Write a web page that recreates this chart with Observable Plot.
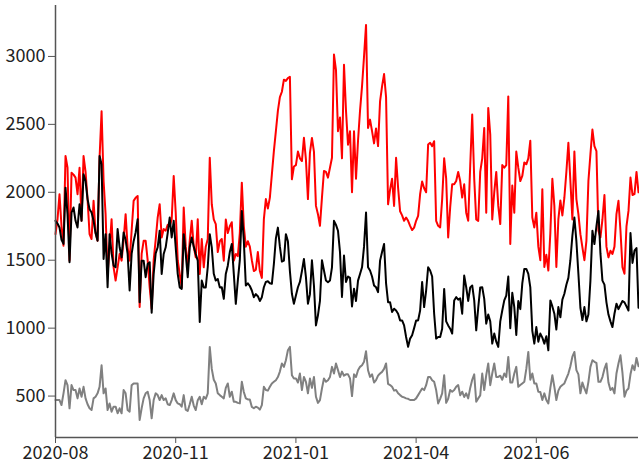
<!DOCTYPE html>
<html>
<head>
<meta charset="utf-8">
<script src="https://cdn.jsdelivr.net/npm/d3@7"></script>
<script src="https://cdn.jsdelivr.net/npm/@observablehq/plot@0.6"></script>
<style>
  html, body { margin: 0; padding: 0; background: #fff; }
  #chart svg { display: block; }
</style>
</head>
<body>
<div id="chart"></div>
<script>
const tickIndex = [0, 60, 120, 180, 240];
const tickLabels = ["2020-08", "2020-11", "2021-01", "2021-04", "2021-06"];
const yTicks = [500, 1000, 1500, 2000, 2500, 3000];

const red = [
1692,1800,1986,1750,1607,2267,2181,1497,2144,2130,
2108,1986,2181,1790,2267,2150,1950,1692,1656,1937,
1700,1643,2254,2596,2083,1839,1399,1595,1802,1448,
1350,1448,1546,1497,1650,1839,1595,1497,1717,1937,
1960,1973,1155,1546,1643,1643,1500,1301,
1143,1500,1650,1814,1912,1668,1729,1717,1760,1750,1800,2120,1850,1500,1400,1301,1888,1600,1448,1643,1790,1600,1521,1802,1399,1656,1448,1600,1656,2254,1912,1800,1766,1560,1640,1656,1497,1800,1700,1750,1780,1497,1546,1530,1700,2071,1750,
1600,1640,1600,1500,1420,1430,1560,1420,1370,1800,1950,1880,1961,2132,2303,2450,2600,2700,2740,2829,2820,2840,2850,2096,2190,2200,2300,2250,2230,2401,2240,1950,2291,2400,2300,1900,1839,1753,1961,2157,2150,2108,2181,2254,3014,
2900,2450,2550,2250,2939,2600,2350,2450,2000,2450,2100,2379,2600,2780,3000,3232,2474,2535,2450,2360,2470,2340,2670,2780,2870,2700,1912,2020,2100,1900,2254,2034,1860,1830,1790,1814,1790,1753,1722,1740,1790,1827,1986,2080,2030,2000,2352,2364,2340,2376,
1790,1753,1741,1950,2250,2100,1668,1888,2059,2059,2083,2150,2083,1961,2059,1850,1790,2193,2572,2100,1800,1790,2150,2250,2474,1850,2621,2425,1800,2000,2150,1900,1766,2200,2181,2200,2706,1619,2050,1850,2300,2181,2083,2120,2220,
2206,2250,2380,1814,1741,1850,1600,1500,2022,1450,1540,1424,1700,2100,1900,1450,1800,1940,1830,1960,2150,2364,2083,1800,2300,1950,1839,1692,1595,1500,1643,2083,2279,2462,2340,2303,1717,1668,1800,1980,1600,1521,1570,1546,1600,1840,1937,1717,1448,1400,1750,1863,2108,1980,1986,2150,2000
];

const black = [
1790,1770,1741,1650,1620,2034,1839,1485,1850,1888,
1790,1741,1912,1790,2132,2083,1950,1876,1851,1790,
1700,1643,2267,2206,1509,1692,1301,1692,1550,1460,
1448,1729,1595,1521,1704,1650,1546,1277,1546,1640,
1704,1802,1191,1497,1497,1375,1472,1485,
1113,1400,1550,1595,1717,1399,1546,1595,1700,1814,1668,1790,1595,1400,1300,1289,1692,1546,1375,1595,1668,1600,1546,1497,1045,1350,1300,1300,1450,1692,1595,1400,1350,1362,1300,1301,1216,1399,1460,1560,1619,1399,1179,1350,1500,1863,1643,
1314,1330,1310,1277,1228,1250,1235,1200,1228,1301,1340,1345,1330,1326,1472,1660,1740,1600,1490,1497,1692,1640,1420,1253,1179,1240,1301,1340,1420,1509,1375,1180,1250,1500,1314,1020,1094,1200,1500,1424,1350,1338,1350,1448,1790,
1760,1717,1560,1230,1534,1340,1380,1370,1160,1290,1200,1350,1399,1448,1600,1851,1448,1424,1380,1314,1301,1265,1497,1560,1620,1330,1191,1191,1118,1143,1130,1106,1057,1057,1020,935,862,923,947,1000,1057,1057,1130,1340,1155,1277,1448,1424,1380,1106,
923,935,935,996,1289,1050,1020,996,960,1204,1228,1210,1220,1106,1387,1301,1200,1300,1314,1204,984,1150,1300,1301,1216,1033,1100,1050,886,960,900,862,1050,1130,1204,1240,1380,1000,1260,1155,950,1200,1140,1330,1436,
1436,1400,1300,980,886,1008,900,960,930,886,940,837,1204,1160,1106,990,1155,1080,1210,1253,1320,1370,1500,1680,1814,1640,1400,1150,1060,1155,1050,1100,1350,1717,1619,1750,1863,1550,1350,1320,1190,1100,1050,1008,1106,1180,1140,1170,1200,1190,1160,1130,1700,1480,1570,1590,1150
];

const gray = [
471,471,471,434,520,617,581,410,581,544,
544,483,556,495,568,483,440,410,397,483,
495,520,568,727,520,556,397,446,385,422,
422,373,410,373,544,520,397,385,580,593,
593,593,324,410,483,520,532,471,
336,471,520,507,471,507,471,483,440,434,471,520,470,446,440,422,507,400,390,440,495,430,397,470,495,440,495,480,520,862,700,620,593,520,507,495,483,560,593,495,532,458,458,450,446,605,530,
483,475,475,420,410,422,415,400,434,568,544,540,568,593,605,617,640,680,740,715,764,837,862,654,629,630,600,666,544,641,605,520,629,560,641,495,450,470,556,629,605,617,641,715,666,
740,691,640,680,650,660,660,630,500,660,640,690,715,727,752,830,690,641,660,600,617,650,666,678,700,740,590,581,568,540,544,520,507,495,490,483,480,471,471,471,483,507,532,556,544,580,641,641,617,605,
544,446,480,520,654,450,480,544,532,544,568,581,505,532,493,520,483,560,620,660,458,483,505,666,544,654,740,580,666,740,641,641,650,620,666,641,788,600,600,666,715,568,581,593,605,
700,825,620,666,593,593,532,530,471,520,471,446,560,654,568,471,540,568,581,593,630,666,720,790,825,691,660,520,600,556,520,605,715,764,752,745,605,605,640,700,740,600,544,560,520,666,740,800,670,495,540,556,660,727,691,780,720
];

const n = red.length;
const yDomain = [195, 3375];
const spine = "#555";

const chart = Plot.plot({
  width: 639,
  height: 471,
  marginLeft: 55,
  marginRight: 1,
  marginTop: 5,
  marginBottom: 34,
  style: {fontFamily: '"Noto Sans CJK SC", "Liberation Sans", sans-serif', fontSize: "18px", color: "#222", background: "#fff"},
  x: {domain: [0, n - 1]},
  y: {domain: yDomain},
  marks: [
    Plot.axisX({ticks: tickIndex, tickFormat: d => tickLabels[tickIndex.indexOf(d)], tickSize: 6, tickPadding: 3, stroke: spine, fill: "#222", label: null, fontSize: 18}),
    Plot.axisY({ticks: yTicks, tickFormat: d => String(d), tickSize: 7, tickPadding: 3, stroke: spine, fill: "#222", label: null, fontSize: 18}),
    Plot.lineY(red, {x: (d, i) => i, y: d => d, stroke: "red", strokeWidth: 2}),
    Plot.lineY(black, {x: (d, i) => i, y: d => d, stroke: "black", strokeWidth: 2}),
    Plot.lineY(gray, {x: (d, i) => i, y: d => d, stroke: "gray", strokeWidth: 2}),
    Plot.ruleX([0], {stroke: spine, strokeWidth: 1.5}),
    Plot.ruleY([yDomain[0]], {stroke: spine, strokeWidth: 1.5})
  ]
});
document.getElementById("chart").append(chart);
</script>
</body>
</html>
